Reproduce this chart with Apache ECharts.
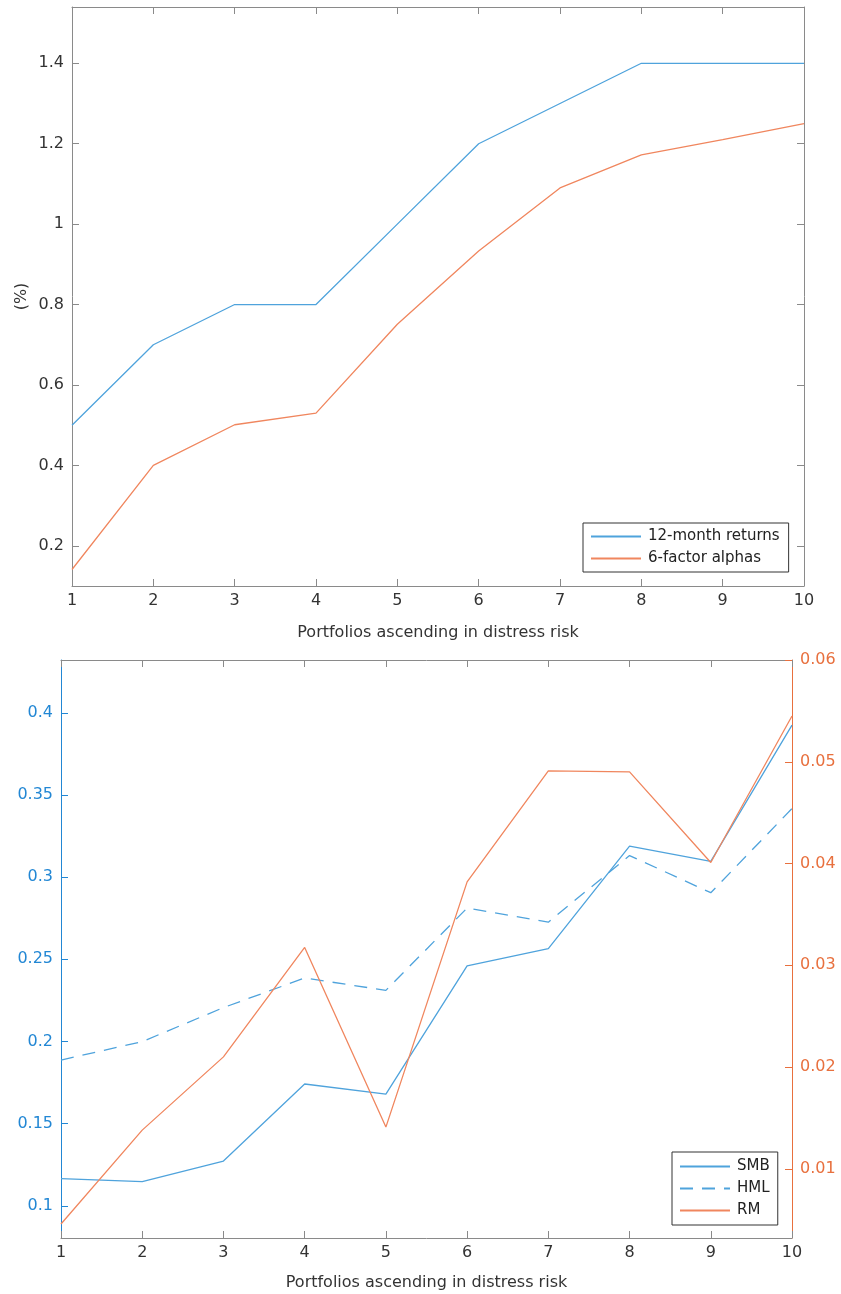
<!DOCTYPE html>
<html>
<head>
<meta charset="utf-8">
<script src="https://cdn.jsdelivr.net/npm/echarts@6/dist/echarts.min.js"></script>
<style>
  html, body { margin: 0; padding: 0; background: #ffffff; }
  #chart { width: 841px; height: 1294px; }
</style>
</head>
<body>
<div id="chart"></div>
<script>
// Portfolios sorted by distress risk (1 = lowest, 10 = highest)
const portfolios = [1, 2, 3, 4, 5, 6, 7, 8, 9, 10];

// Upper panel: returns and alphas, in percent
const returns12m = [0.5, 0.7, 0.8, 0.8, 1.0, 1.2, 1.3, 1.4, 1.4, 1.4];
const alphas6f   = [0.141, 0.40, 0.501, 0.53, 0.751, 0.933, 1.09, 1.172, 1.21, 1.25];

// Lower panel: factor loadings (SMB, HML on the left axis, RM on the right axis)
const smb = [0.1165, 0.1147, 0.1272, 0.1741, 0.168, 0.246, 0.2565, 0.3189, 0.3096, 0.3925];
const hml = [0.1887, 0.1999, 0.2206, 0.2386, 0.2311, 0.2812, 0.2726, 0.3131, 0.2905, 0.3417];
const rm  = [0.00458, 0.0138, 0.0210, 0.03175, 0.0141, 0.0382, 0.0491, 0.0490, 0.0401, 0.0545];

// Tick labels
const xTicks = [1, 2, 3, 4, 5, 6, 7, 8, 9, 10];
const topYTicks = [0.2, 0.4, 0.6, 0.8, 1, 1.2, 1.4];
const leftYTicks = [0.1, 0.15, 0.2, 0.25, 0.3, 0.35, 0.4];
const rightYTicks = [0.01, 0.02, 0.03, 0.04, 0.05, 0.06];

const FONT = 'DejaVu Sans';
const AXIS_GREY = '#8a8a8a';
const TEXT_GREY = '#333333';
const LINE_BLUE = '#4fa3dc';
const LINE_ORANGE = '#f0865e';
const AXIS_BLUE = '#2287d4';
const AXIS_ORANGE = '#e8703e';

const pairs = ys => portfolios.map((x, i) => [x, ys[i]]);

function xAxisDef(grid, position, withLabels, name, gap) {
  return {
    type: 'value', gridIndex: grid, position: position,
    min: 1, max: 10, interval: 1,
    axisLine: { show: true, onZero: false, lineStyle: { color: AXIS_GREY, width: 1 } },
    axisTick: { show: true, inside: true, length: 7, customValues: xTicks, lineStyle: { color: AXIS_GREY } },
    axisLabel: { show: withLabels, customValues: xTicks, color: TEXT_GREY, fontFamily: FONT, fontSize: 16, margin: 7 },
    splitLine: { show: false },
    name: name || '', nameLocation: 'middle', nameGap: gap || 36,
    nameTextStyle: { color: TEXT_GREY, fontFamily: FONT, fontSize: 16 }
  };
}

function yAxisDef(grid, position, min, max, ticks, withLabels, lineColor, textColor, name) {
  return {
    type: 'value', gridIndex: grid, position: position,
    min: min, max: max,
    axisLine: { show: true, onZero: false, lineStyle: { color: lineColor, width: 1 } },
    axisTick: { show: true, inside: true, length: 7, customValues: ticks, lineStyle: { color: lineColor } },
    axisLabel: { show: withLabels, customValues: ticks, color: textColor, fontFamily: FONT, fontSize: 16, margin: 8 },
    splitLine: { show: false },
    name: name || '', nameLocation: 'middle', nameRotate: 90, nameGap: 42,
    nameMoveOverlap: false,
    nameTextStyle: { color: TEXT_GREY, fontFamily: FONT, fontSize: 16 }
  };
}

// Shared legend look: boxed, line samples only (no point markers)
function legendDef(names, left, top, pad) {
  return {
    data: names,
    orient: 'vertical', left: left, top: top,
    backgroundColor: '#ffffff', borderColor: '#333333', borderWidth: 1,
    padding: pad, itemGap: 7, itemWidth: 50, itemHeight: 14,
    itemStyle: { opacity: 0 },
    textStyle: { color: '#222222', fontFamily: FONT, fontSize: 15, padding: [0, 0, 0, 2] }
  };
}

const chart = echarts.init(document.getElementById('chart'), null, { renderer: 'canvas' });

chart.setOption({
  backgroundColor: '#ffffff',
  animation: false,
  textStyle: { fontFamily: FONT },
  grid: [
    { left: 72, top: 7, width: 732, height: 579, show: false },
    { left: 61, top: 660, width: 731, height: 578, show: false }
  ],
  xAxis: [
    xAxisDef(0, 'bottom', true, 'Portfolios ascending in distress risk', 39),
    xAxisDef(0, 'top', false),
    xAxisDef(1, 'bottom', true, 'Portfolios ascending in distress risk', 37),
    xAxisDef(1, 'top', false)
  ],
  yAxis: [
    yAxisDef(0, 'left', 0.1, 1.54, topYTicks, true, AXIS_GREY, TEXT_GREY, '(%)'),
    yAxisDef(0, 'right', 0.1, 1.54, topYTicks, false, AXIS_GREY, TEXT_GREY),
    yAxisDef(1, 'left', 0.0804, 0.4321, leftYTicks, true, AXIS_BLUE, AXIS_BLUE),
    yAxisDef(1, 'right', 0.0032, 0.06, rightYTicks, true, AXIS_ORANGE, AXIS_ORANGE)
  ],
  legend: [
    legendDef(['12-month returns', '6-factor alphas'], 583, 523, [6, 9, 6, 7]),
    legendDef(['SMB', 'HML', 'RM'], 672, 1152, [7, 8, 7, 7])
  ],
  series: [
    {
      name: '12-month returns', type: 'line', xAxisIndex: 0, yAxisIndex: 0,
      data: pairs(returns12m), symbol: 'none', color: LINE_BLUE,
      lineStyle: { color: LINE_BLUE, width: 1.3 }
    },
    {
      name: '6-factor alphas', type: 'line', xAxisIndex: 0, yAxisIndex: 0,
      data: pairs(alphas6f), symbol: 'none', color: LINE_ORANGE,
      lineStyle: { color: LINE_ORANGE, width: 1.3 }
    },
    {
      name: 'SMB', type: 'line', xAxisIndex: 2, yAxisIndex: 2,
      data: pairs(smb), symbol: 'none', color: LINE_BLUE,
      lineStyle: { color: LINE_BLUE, width: 1.3 }
    },
    {
      name: 'HML', type: 'line', xAxisIndex: 2, yAxisIndex: 2,
      data: pairs(hml), symbol: 'none', color: LINE_BLUE,
      lineStyle: { color: LINE_BLUE, width: 1.3, type: [13, 9] }
    },
    {
      name: 'RM', type: 'line', xAxisIndex: 2, yAxisIndex: 3,
      data: pairs(rm), symbol: 'none', color: LINE_ORANGE,
      lineStyle: { color: LINE_ORANGE, width: 1.3 }
    }
  ]
});
</script>
</body>
</html>
